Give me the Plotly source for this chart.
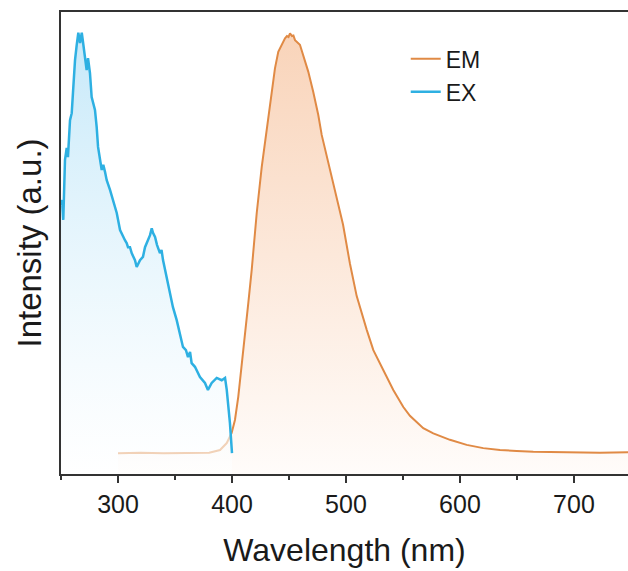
import plotly.graph_objects as go

# Emission spectrum (EM)
em_wl = [300, 320, 340, 360, 380, 389.5, 395.4, 399.7, 402.6, 405.5, 408.5, 411.4, 414.3,
         417.3, 421.7, 426.1, 429.8, 432.7, 434.8, 437.7, 440.6, 443.6, 446.5, 448.2, 449.6,
         450.9, 452.6, 453.9, 455.3, 459.6, 462.5, 466.9, 471.3, 475.7, 478.7, 482.0, 488.6,
         497.4, 503.5, 509.4, 518.2, 524.0, 532.7, 541.5, 550.3, 556.1, 567.8, 576.6, 591.2,
         605.9, 620.4, 635.1, 649.7, 664.3, 693.6, 722.8, 747.4, 760]
em_val = [4.5, 4.6, 4.5, 4.5, 4.6, 5.2, 6.7, 8.9, 11.7, 16.7, 23.2, 29.7, 37.0,
          44.2, 56.5, 66.5, 73.4, 79.2, 83.5, 87.8, 91.4, 92.9, 94.3, 94.8, 94.6,
          95.4, 94.8, 94.9, 93.9, 92.9, 90.7, 87.1, 82.7, 77.7, 73.4, 70.0, 63.5,
          54.0, 45.5, 38.5, 31.2, 26.8, 22.5, 18.2, 14.5, 12.6, 9.9, 8.8, 7.4,
          6.3, 5.6, 5.2, 5.0, 4.8, 4.7, 4.6, 4.7, 4.6]

# Excitation spectrum (EX)
ex_wl = [250, 250.9, 252.0, 253.5, 255.0, 256.1, 257.9, 259.4, 260.5, 262.3, 263.8, 265.2,
         266.7, 268.2, 269.3, 271.1, 272.5, 273.7, 275.4, 276.9, 279.8, 281.3, 282.5, 285.7,
         287.1, 288.6, 290.1, 293.0, 295.6, 298.9, 301.8, 304.4, 306.1, 307.6, 308.8, 310.5,
         312.0, 314.9, 316.4, 319.3, 321.9, 323.7, 325.2, 328.1, 329.6, 330.7, 332.5, 334.2,
         336.8, 338.2, 339.5, 342.7, 345.6, 348.2, 351.5, 354.4, 357.0, 359.6, 361.4, 363.2,
         364.6, 367.5, 371.9, 376.3, 378.9, 382.2, 386.6, 391.0, 393.9, 395.4, 398.2, 400.0]
ex_val = [58.2, 59.3, 55.0, 68.0, 70.6, 68.6, 76.6, 78.1, 82.5, 89.6, 92.9, 95.5,
          93.3, 95.5, 93.5, 90.3, 87.4, 90.0, 86.8, 81.6, 78.8, 75.1, 70.8, 65.8,
          66.9, 65.4, 63.6, 61.5, 59.3, 56.5, 52.8, 51.3, 50.6, 50.0, 49.1, 49.1,
          47.8, 46.3, 44.8, 46.3, 47.0, 49.1, 50.0, 51.7, 53.2, 52.2, 51.3, 49.6,
          47.8, 48.5, 46.3, 42.6, 39.2, 36.1, 33.3, 30.5, 27.5, 26.8, 25.3, 26.4,
          24.0, 23.2, 21.0, 19.7, 18.2, 19.7, 20.8, 20.3, 20.8, 18.2, 11.0, 4.5]

x_ticks = [300, 400, 500, 600, 700]

EM_COLOR = "#E08A45"
EX_COLOR = "#2EB0E2"
FONT = "Arial, Liberation Sans, sans-serif"

fig = go.Figure()

# EM fill
fig.add_trace(go.Scatter(
    x=em_wl, y=em_val, mode="lines", line=dict(width=0), fill="tozeroy",
    fillgradient=dict(type="vertical", start=0, stop=95,
                      colorscale=[[0, "rgba(255,252,250,1)"], [1, "rgba(249,212,186,1)"]]),
    showlegend=False, hoverinfo="skip"))
# EM line
fig.add_trace(go.Scatter(x=em_wl, y=em_val, mode="lines", name="EM",
                         line=dict(color=EM_COLOR, width=2)))
# EX fill (semi-transparent, drawn over EM baseline)
fig.add_trace(go.Scatter(
    x=ex_wl, y=ex_val, mode="lines", line=dict(width=0), fill="tozeroy",
    fillgradient=dict(type="vertical", start=0, stop=95,
                      colorscale=[[0, "rgba(255,255,255,0.6)"], [1, "rgba(196,232,249,0.95)"]]),
    showlegend=False, hoverinfo="skip"))
# EX line
fig.add_trace(go.Scatter(x=ex_wl, y=ex_val, mode="lines", name="EX",
                         line=dict(color=EX_COLOR, width=2.5)))

fig.update_layout(
    width=628, height=571,
    margin=dict(l=61, r=0, t=12, b=97, autoexpand=False),
    paper_bgcolor="white", plot_bgcolor="white",
    font=dict(family=FONT, color="#1a1a1a"),
    legend=dict(x=0.608, y=0.945, xanchor="left", yanchor="top",
                font=dict(size=23, family=FONT, color="#1a1a1a"),
                bgcolor="rgba(0,0,0,0)", tracegroupgap=0),
    xaxis=dict(range=[250, 747.4], tickvals=x_ticks, ticktext=[str(t) for t in x_ticks],
               ticks="outside", ticklen=7, tickwidth=1.5, tickcolor="#333333",
               showline=True, linecolor="#333333", linewidth=1.8, mirror=True,
               showgrid=False, zeroline=False, automargin=False,
               tickfont=dict(size=25, family=FONT, color="#1a1a1a"),
               minor=dict(dtick=50, tick0=250, ticks="outside", ticklen=4,
                          tickwidth=1.5, tickcolor="#333333", showgrid=False),
               title=dict(text="Wavelength (nm)", font=dict(size=32, family=FONT, color="#1a1a1a"),
                          standoff=22)),
    yaxis=dict(range=[0, 100], showticklabels=False, ticks="",
               showline=True, linecolor="#333333", linewidth=1.8,
               showgrid=False, zeroline=False, automargin=False,
               title=dict(text="Intensity (a.u.)", font=dict(size=33, family=FONT, color="#1a1a1a"),
                          standoff=8)),
)

fig.write_html(
    "out.html",
    config={"displayModeBar": False},
    post_script="document.body.style.margin='0px';document.body.style.overflow='hidden';",
)
